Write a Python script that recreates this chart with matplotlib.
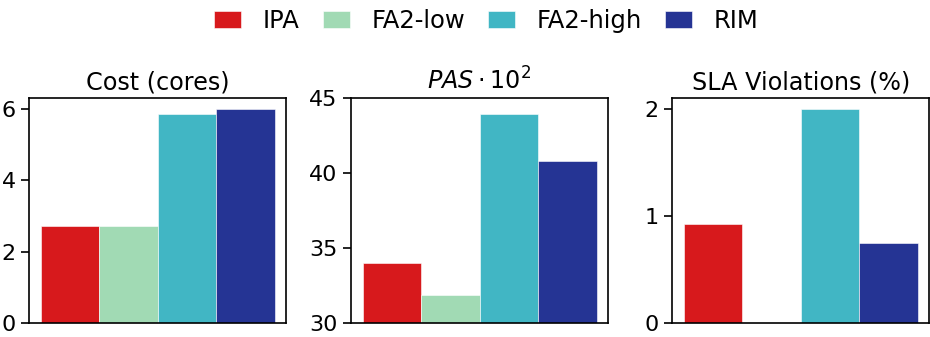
import numpy as np
import matplotlib
matplotlib.use('Agg')
import matplotlib.pyplot as plt

# data
methods = ['IPA', 'FA2-low', 'FA2-high', 'RIM']
colors = ['#d7191c', '#a1dab4', '#41b6c4', '#253494']
cost = [2.71, 2.71, 5.85, 6.0]
pas = [34.0, 31.87, 43.93, 40.79]
sla = [0.92, 0.0, 2.0, 0.75]
titles = ['Cost (cores)', r'$PAS \cdot 10^2$', 'SLA Violations (%)']

fig = plt.figure(figsize=(9.3, 3.37), dpi=100)
lefts = [0.0312, 0.3774, 0.7226]
width = 0.2768
axes = [fig.add_axes([l, 0.0415, width, 0.668]) for l in lefts]

bar_w = 0.25
xs = (np.arange(len(methods)) - 1.5) * bar_w

for ax, vals, title in zip(axes, [cost, pas, sla], titles):
    for i, m in enumerate(methods):
        ax.bar(xs[i], vals[i], width=bar_w, color=colors[i],
               edgecolor='white', linewidth=0.4, label=m)
    ax.set_title(title, fontsize=17.2, pad=6)
    ax.set_xticks([])
    ax.tick_params(axis='y', labelsize=16, length=6, width=1.2)
    for s in ax.spines.values():
        s.set_linewidth(1.2)

axes[0].set_yticks([0, 2, 4, 6])
axes[1].set_ylim(30, 45)
axes[1].set_yticks([30, 35, 40, 45])
axes[2].set_yticks([0, 1, 2])

handles, labels = axes[0].get_legend_handles_labels()
fig.legend(handles, labels, loc='center', bbox_to_anchor=(0.523, 0.938),
           ncol=4, frameon=False, fontsize=17.5, handlelength=1.1,
           handleheight=0.75, columnspacing=0.95, handletextpad=0.9)

fig.savefig('out.png', dpi=100)
